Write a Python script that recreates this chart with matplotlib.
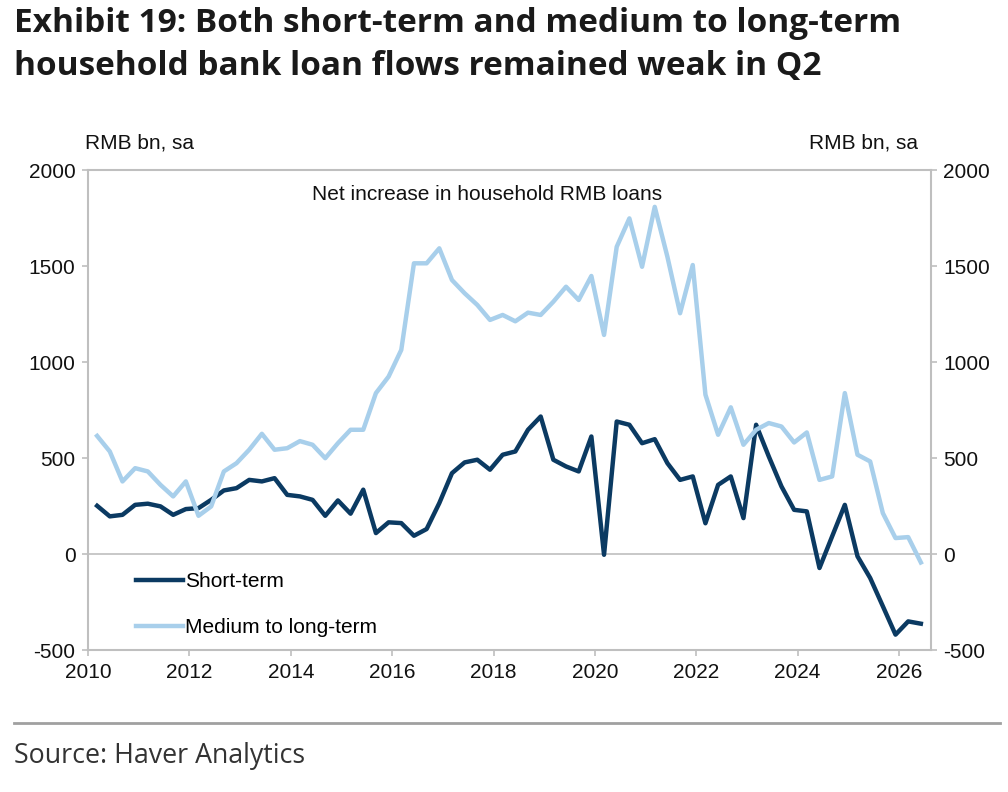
import numpy as np
import matplotlib
matplotlib.use("Agg")
import matplotlib.pyplot as plt

# quarterly, 2010 Q1 .. 2026 Q2 (RMB bn, sa)
start_year = 2010.18
short_term = [251, 196, 204, 256, 262, 248, 204, 234, 239, 282, 331, 343, 386, 378, 395, 308,
              300, 282, 199, 279, 210, 335, 109, 165, 161, 95, 130, 265, 421, 477, 491, 439,
              517, 534, 647, 716, 491, 456, 430, 612, -4, 690, 673, 577, 598, 473, 386, 404,
              160, 360, 404, 187, 673, 508, 352, 230, 222, -73, 92, 256, -12, -125, -272, -420,
              -351, -363]
medium_long = [615, 534, 378, 447, 430, 360, 300, 378, 199, 248, 430, 473, 543, 626, 543, 551,
               588, 569, 499, 577, 647, 647, 838, 924, 1063, 1514, 1514, 1592, 1427, 1358, 1297, 1219,
               1245, 1212, 1257, 1245, 1314, 1392, 1323, 1448, 1141, 1600, 1748, 1496, 1808, 1548, 1254, 1505,
               830, 621, 764, 569, 647, 682, 664, 581, 633, 386, 404, 838, 517, 482, 213, 83,
               88, -44]
years = start_year + 0.25 * np.arange(len(short_term))

navy = "#0b3a62"
light = "#a8cfeb"
grey = "#bfbfbf"
fs = 15

plt.rcParams['font.family'] = ['Liberation Sans', 'DejaVu Sans']
plt.rcParams['axes.unicode_minus'] = False
fig = plt.figure(figsize=(10.08, 7.92), dpi=100)
ax = fig.add_axes([88/1008, 1-650/792, 843/1008, 480/792])

ax.plot(years, short_term, color=navy, lw=3.2, label="Short-term")
ax.plot(years, medium_long, color=light, lw=3.2, label="Medium to long-term")
ax.axhline(0, color=grey, lw=1.2, zorder=0)

ax.set_xlim(2010, 2026.63)
ax.set_ylim(-500, 2000)
ax.set_xticks(range(2010, 2027, 2))
ax.set_yticks(range(-500, 2001, 500))
for s in ax.spines.values():
    s.set_color(grey)
    s.set_linewidth(1.5)
ax.tick_params(axis='both', colors=grey, labelcolor='#111111', labelsize=fs, length=4, width=1.2)
ax.tick_params(axis='x', pad=5)
ax.tick_params(axis='y', pad=5)

ax2 = ax.twinx()
ax2.set_ylim(-500, 2000)
ax2.set_yticks(range(-500, 2001, 500))
ax2.tick_params(axis='y', colors=grey, labelcolor='#111111', labelsize=fs, length=4, width=1.2, pad=5)
for s in ax2.spines.values():
    s.set_visible(False)

fig.text(85/1008, 1-143/792, "RMB bn, sa", fontsize=fs, va='center', ha='left', color='#111111')
fig.text(918/1008, 1-143/792, "RMB bn, sa", fontsize=fs, va='center', ha='right', color='#111111')
fig.text(487/1008, 1-195/792, "Net increase in household RMB loans", fontsize=fs,
         ha='center', va='center', color='#111111')

ax.legend(loc='upper left', bbox_to_anchor=(0.047, 0.18), frameon=False, fontsize=fs,
          handlelength=2.25, handletextpad=0.1, labelspacing=1.3, borderaxespad=0)

fig.text(14/1008, 1-24/792, "Exhibit 19: Both short-term and medium to long-term",
         fontsize=24, fontweight='bold', family='Open Sans', va='center', ha='left', color='#1a1a1a')
fig.text(14/1008, 1-67/792, "household bank loan flows remained weak in Q2",
         fontsize=24, fontweight='bold', family='Open Sans', va='center', ha='left', color='#1a1a1a')

fig.add_artist(plt.Line2D([14/1008, 1000/1008], [1-723/792, 1-723/792], color='#a0a0a0', lw=2))
fig.text(14/1008, 1-756/792, "Source: Haver Analytics", fontsize=19.3, family='Open Sans',
         va='center', ha='left', color='#333333')

fig.savefig("out.png", dpi=100)
